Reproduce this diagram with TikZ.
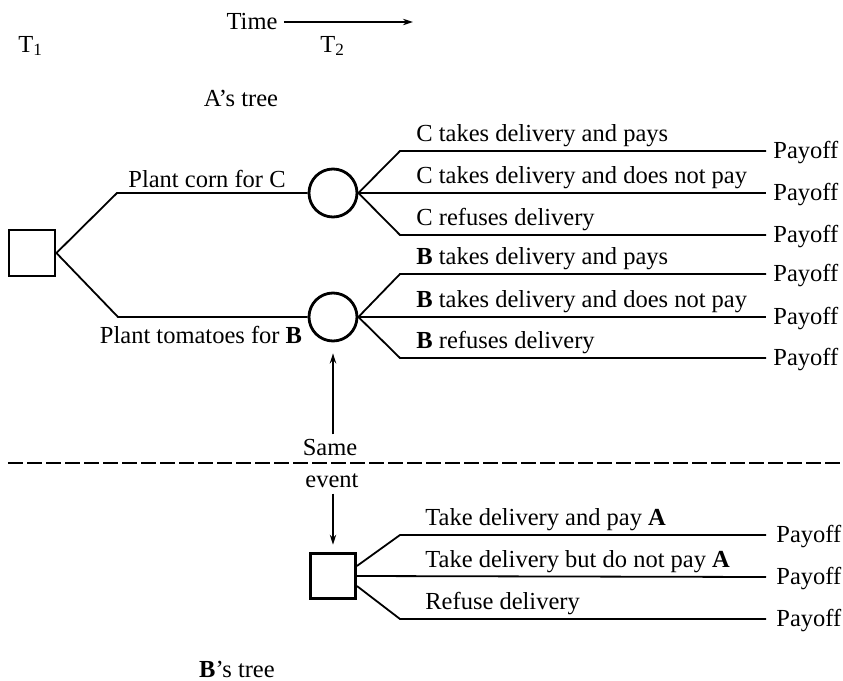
\documentclass[tikz,border=0pt]{standalone}
\usepackage{fontspec}
\setmainfont{Liberation Serif}
\usetikzlibrary{arrows.meta}
\begin{document}
\begin{tikzpicture}[x=0.5pt,y=-0.5pt,
  txt/.style={font=\fontsize{12.25}{14}\selectfont, inner sep=0pt},
  lbl/.style={txt, anchor=base west},
  ln/.style={line width=0.9pt},
  dnode/.style={draw, line width=1.4pt, minimum size=23pt, inner sep=0pt},
  cnode/.style={draw, circle, line width=1.4pt, minimum size=24pt, inner sep=0pt},
  arr/.style={line width=0.8pt, -{Stealth[length=5pt,width=3.2pt]}}]
\useasboundingbox (0,0) rectangle (843,681);

% header
\node[txt] (time) at (252,22) {Time};
\coordinate (timeend) at (413,22);
\draw[arr] ([xshift=3pt]time.east) -- (timeend);
\node[lbl] (t1) at (18,52) {T\textsubscript{1}};
\node[lbl] (t2) at (320,52) {T\textsubscript{2}};
\node[txt, anchor=base] (atree) at (241,106) {A’s tree};

% A's tree
\node[dnode] (da) at (32,253) {};
\node[cnode] (c1) at (333,193) {};
\node[cnode] (c2) at (333,317) {};
\coordinate (k1) at (117,193);
\coordinate (k2) at (118,317);
\draw[ln] (da.east) -- (k1) -- (c1.west);
\draw[ln] (da.east) -- (k2) -- (c2.west);
\node[txt, anchor=base] (pc) at (207,187) {Plant corn for C};
\node[txt, anchor=base] (pt) at (201,343) {Plant tomatoes for \textbf{B}};

% C branches
\coordinate (c1a) at (400,151); \coordinate (c1ae) at (766,151);
\coordinate (c1be) at (766,193);
\coordinate (c1c) at (400,235); \coordinate (c1ce) at (766,235);
\draw[ln] (c1.east) -- (c1a) -- (c1ae);
\draw[ln] (c1.east) -- (c1be);
\draw[ln] (c1.east) -- (c1c) -- (c1ce);
\node[lbl] (lc1) at (416,141) {C takes delivery and pays};
\node[lbl] (lc2) at (416,183) {C takes delivery and does not pay};
\node[lbl] (lc3) at (416,225) {C refuses delivery};
\node[lbl] (pc1) at (773,158) {Payoff};
\node[lbl] (pc2) at (773,200) {Payoff};
\node[lbl] (pc3) at (773,242) {Payoff};

% B branches (A's tree)
\coordinate (c2a) at (400,274); \coordinate (c2ae) at (766,274);
\coordinate (c2be) at (766,317);
\coordinate (c2c) at (400,358); \coordinate (c2ce) at (766,358);
\draw[ln] (c2.east) -- (c2a) -- (c2ae);
\draw[ln] (c2.east) -- (c2be);
\draw[ln] (c2.east) -- (c2c) -- (c2ce);
\node[lbl] (lb1) at (416,264) {\textbf{B} takes delivery and pays};
\node[lbl] (lb2) at (416,307) {\textbf{B} takes delivery and does not pay};
\node[lbl] (lb3) at (416,348) {\textbf{B} refuses delivery};
\node[lbl] (pb1) at (773,281) {Payoff};
\node[lbl] (pb2) at (773,324) {Payoff};
\node[lbl] (pb3) at (773,365) {Payoff};

% same event
\node[txt, anchor=base] (same) at (330,455) {Same};
\draw[arr, shorten <=2pt, shorten >=5.5pt] (c2.south |- same.north) -- (c2.south);
\coordinate (dl) at (8,463);
\coordinate (dr) at (843,463);
\draw[ln, dash pattern=on 7.5pt off 2pt] (dl) -- (dr);
\node[txt, anchor=base] (event) at (332,487) {event};

% B's tree
\node[dnode, minimum size=22.5pt] (db) at (333,576) {};
\draw[arr, shorten <=3pt, shorten >=3.7pt] (db.north |- event.south) -- (db.north);
\coordinate (ba) at (400,535); \coordinate (bae) at (766,535);
\coordinate (bbe) at (766,577);
\coordinate (bc) at (400,619); \coordinate (bce) at (766,619);
\draw[ln] ([yshift=5pt]db.east) -- (ba) -- (bae);
\draw[ln] (db.east) -- (bbe);
\draw[ln] ([yshift=-5pt]db.east) -- (bc) -- (bce);
\node[lbl] (lt1) at (425,525) {Take delivery and pay \textbf{A}};
\node[lbl] (lt2) at (425,567) {Take delivery but do not pay \textbf{A}};
\node[lbl] (lt3) at (425,609) {Refuse delivery};
\node[lbl] (pt1) at (776,542) {Payoff};
\node[lbl] (pt2) at (776,584) {Payoff};
\node[lbl] (pt3) at (776,626) {Payoff};
\node[txt, anchor=base] (btree) at (237,677) {\textbf{B}’s tree};
\end{tikzpicture}
\end{document}
